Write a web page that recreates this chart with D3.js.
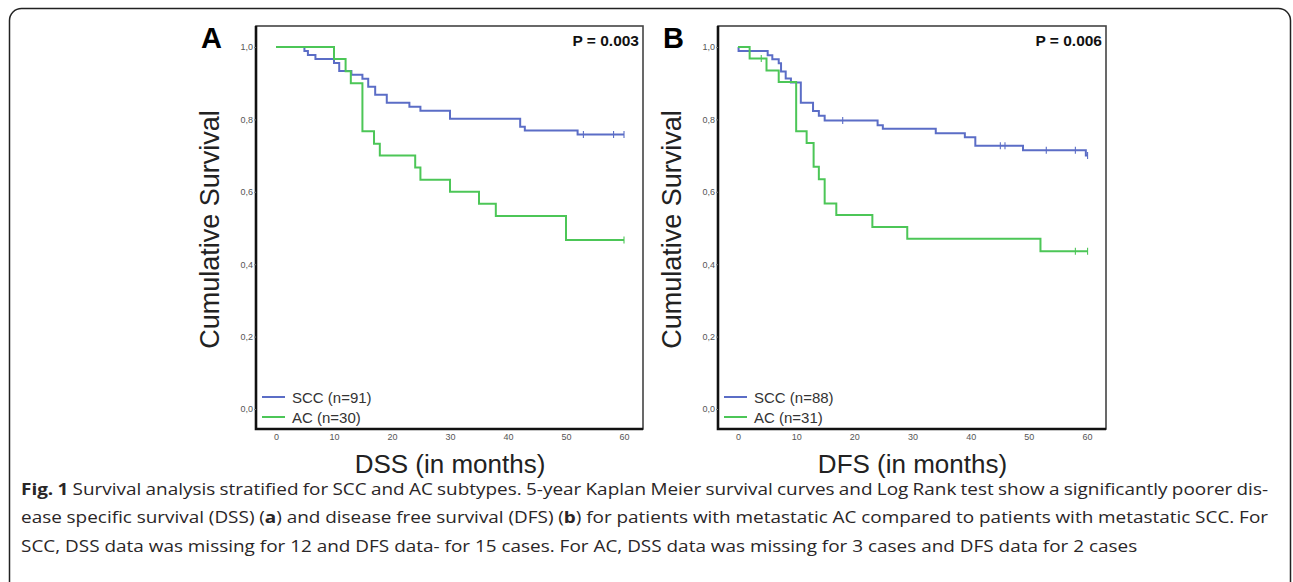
<!DOCTYPE html>
<html>
<head>
<meta charset="utf-8">
<script src="https://cdn.jsdelivr.net/npm/d3@7"></script>
<style>
  body { margin: 0; background: #fff; }
</style>
</head>
<body>
<div id="main"></div>
<script>
'use strict';

// axis ticks
var monthTicks = [0, 10, 20, 30, 40, 50, 60];
var survTicks = [0, 0.2, 0.4, 0.6, 0.8, 1.0];

// DSS (panel A)
var dssSccTime = [0, 4.9, 5.5, 6.8, 10.0, 10.9, 13.0, 14.9, 15.9, 17.1, 19.1, 23.0, 24.9, 30.0, 42.1, 42.9, 52.0, 60.0];
var dssSccSurv = [1, 0.989, 0.978, 0.967, 0.956, 0.934, 0.923, 0.912, 0.890, 0.868, 0.846, 0.835, 0.824, 0.802, 0.780, 0.769, 0.758, 0.758];
var dssSccCensor = [53.0, 58.2, 60.0];

var dssAcTime = [0, 10.0, 12.0, 12.9, 14.9, 16.9, 17.9, 24.0, 24.9, 30.0, 35.0, 37.9, 50.0, 60.0];
var dssAcSurv = [1, 0.967, 0.933, 0.900, 0.767, 0.733, 0.700, 0.667, 0.633, 0.600, 0.567, 0.533, 0.467, 0.467];
var dssAcCensor = [60.0];

// DFS (panel B)
var dfsSccTime = [0, 0.1, 5.1, 5.9, 7.0, 7.4, 8.2, 9.1, 10.8, 12.9, 13.9, 14.9, 24.0, 24.9, 34.0, 39.0, 40.8, 49.0, 59.8, 60.1];
var dfsSccSurv = [1, 0.989, 0.977, 0.966, 0.955, 0.932, 0.913, 0.902, 0.846, 0.823, 0.810, 0.797, 0.784, 0.774, 0.762, 0.751, 0.727, 0.715, 0.700, 0.700];
var dfsSccCensor = [18.0, 45.1, 45.9, 53.0, 58.0, 60.1];

var dfsAcTime = [0, 2.0, 4.9, 7.0, 10.0, 11.8, 13.0, 13.9, 14.9, 16.9, 23.1, 29.1, 52.0, 60.1];
var dfsAcSurv = [1, 0.968, 0.935, 0.903, 0.767, 0.735, 0.669, 0.635, 0.568, 0.536, 0.503, 0.470, 0.436, 0.436];
var dfsAcCensor = [4.0, 58.0, 60.1];

var seriesNames = ['SCC', 'AC'];
var dssN = [91, 30];
var dfsN = [88, 31];
var pValues = ['P = 0.003', 'P = 0.006'];

var width = 1293;
var height = 582;
var blue = '#5b6dc6';
var green = '#4cc657';
var chartFont = '"Liberation Sans", Arial, sans-serif';
var captionFont = '"Open Sans", "Noto Sans", sans-serif';

var svg = d3.select('#main').append('svg')
  .attr('width', width)
  .attr('height', height);

// outer figure frame
svg.append('rect')
  .attr('x', 9.5).attr('y', 8.5)
  .attr('width', 1281).attr('height', 620)
  .attr('rx', 12)
  .style('fill', 'none')
  .style('stroke', '#222')
  .style('stroke-width', 1.5);

function survivalAt(times, surv, t) {
  var s = surv[0];
  for (var i = 0; i < times.length; i++) {
    if (times[i] <= t) s = surv[i];
  }
  return s;
}

function drawPanel(box, letter, pText, xTitle, curves, nums) {
  var g = svg.append('g');
  var x = d3.scaleLinear().domain([0, 60]).range([box.x0 + 20, box.x1 - 19]);
  var y = d3.scaleLinear().domain([0, 1]).range([box.y1 - 20, box.y0 + 21]);

  // plot box
  g.append('rect')
    .attr('x', box.x0).attr('y', box.y0)
    .attr('width', box.x1 - box.x0).attr('height', box.y1 - box.y0)
    .style('fill', 'none').style('stroke', '#444').style('stroke-width', 1.6);
  g.append('path')
    .attr('d', 'M' + box.x0 + ',' + box.y0 + 'V' + box.y1 + 'H' + box.x1)
    .style('fill', 'none').style('stroke', '#111').style('stroke-width', 2.6);

  // y axis
  var yAxis = g.append('g')
    .attr('transform', 'translate(' + box.x0 + ',0)')
    .call(d3.axisLeft(y).tickValues(survTicks).tickSize(2).tickPadding(1)
      .tickFormat(function (d) { return d3.format('.1f')(d).replace('.', ','); }));
  yAxis.select('.domain').remove();
  yAxis.selectAll('line').style('stroke', '#777');
  yAxis.selectAll('text').style('font-family', chartFont).style('font-size', '9px').style('fill', '#555');

  // x axis
  var xAxis = g.append('g')
    .attr('transform', 'translate(0,' + box.y1 + ')')
    .call(d3.axisBottom(x).tickValues(monthTicks).tickSize(0).tickPadding(5));
  xAxis.select('.domain').remove();
  xAxis.selectAll('text').style('font-family', chartFont).style('font-size', '9px').style('fill', '#555');

  // curves
  var line = d3.line()
    .x(function (d) { return x(d[0]); })
    .y(function (d) { return y(d[1]); })
    .curve(d3.curveStepAfter);

  curves.forEach(function (c) {
    var pts = c.time.map(function (t, i) { return [t, c.surv[i]]; });
    g.append('path')
      .attr('d', line(pts))
      .style('fill', 'none')
      .style('stroke', c.color)
      .style('stroke-width', 2);
    g.selectAll(null).data(c.censor).enter().append('line')
      .attr('x1', function (d) { return x(d); })
      .attr('x2', function (d) { return x(d); })
      .attr('y1', function (d) { return y(survivalAt(c.time, c.surv, d)) - 3.5; })
      .attr('y2', function (d) { return y(survivalAt(c.time, c.surv, d)) + 3.5; })
      .style('stroke', c.color)
      .style('stroke-width', 1.1);
  });

  // legend
  var leg = g.append('g').attr('transform', 'translate(' + (box.x0 + 6) + ',' + (box.y1 - 32) + ')');
  curves.forEach(function (c, i) {
    leg.append('line')
      .attr('x1', 0).attr('x2', 23)
      .attr('y1', i * 20).attr('y2', i * 20)
      .style('stroke', c.color).style('stroke-width', 2);
    leg.append('text')
      .attr('x', 30).attr('y', i * 20 + 5.5)
      .text(seriesNames[i] + ' (n=' + nums[i] + ')')
      .style('font-family', chartFont).style('font-size', '15px').style('fill', '#333');
  });

  // p value
  g.append('text')
    .attr('x', box.x1 - 4).attr('y', box.y0 + 20)
    .attr('text-anchor', 'end')
    .text(pText)
    .style('font-family', chartFont).style('font-size', '15.5px')
    .style('font-weight', 'bold').style('fill', '#111');

  // panel letter
  g.append('text')
    .attr('x', box.x0 - 34).attr('y', box.y0 + 22)
    .attr('text-anchor', 'end')
    .text(letter)
    .style('font-family', chartFont).style('font-size', '29px')
    .style('font-weight', 'bold').style('fill', '#000');

  // axis titles
  g.append('text')
    .attr('transform', 'translate(' + (box.x0 - 37) + ',' + ((box.y0 + box.y1) / 2 + 2) + ') rotate(-90)')
    .attr('text-anchor', 'middle')
    .text('Cumulative Survival')
    .style('font-family', chartFont).style('font-size', '27px').style('fill', '#222');
  g.append('text')
    .attr('x', (x(0) + x(60)) / 2).attr('y', box.y1 + 44)
    .attr('text-anchor', 'middle')
    .text(xTitle)
    .style('font-family', chartFont).style('font-size', '26px').style('fill', '#222');
}

drawPanel({ x0: 256, x1: 643, y0: 26, y1: 429 }, 'A', pValues[0], 'DSS (in months)', [
  { time: dssSccTime, surv: dssSccSurv, censor: dssSccCensor, color: blue },
  { time: dssAcTime, surv: dssAcSurv, censor: dssAcCensor, color: green }
], dssN);

drawPanel({ x0: 718, x1: 1106, y0: 26, y1: 429 }, 'B', pValues[1], 'DFS (in months)', [
  { time: dfsSccTime, surv: dfsSccSurv, censor: dfsSccCensor, color: blue },
  { time: dfsAcTime, surv: dfsAcSurv, censor: dfsAcCensor, color: green }
], dfsN);

// caption: widened so the last line ends where the reference does, lines 1-2 justified
var captionLines = [
  [['Fig. 1', true], [' Survival analysis stratified for SCC and AC subtypes. 5-year Kaplan Meier survival curves and Log Rank test show a significantly poorer dis-', false]],
  [['ease specific survival (DSS) (', false], ['a', true], [') and disease free survival (DFS) (', false], ['b', true], [') for patients with metastatic AC compared to patients with metastatic SCC. For', false]],
  [['SCC, DSS data was missing for 12 and DFS data- for 15 cases. For AC, DSS data was missing for 3 cases and DFS data for 2 cases', false]]
];
var captionLeft = 21;
var captionRight = 1268;
var lastLineRight = 1138;

var cap = svg.append('g');
var capTexts = captionLines.map(function (segs, i) {
  var t = cap.append('text')
    .attr('x', 0).attr('y', 495 + i * 28.5)
    .style('font-family', captionFont).style('font-size', '16.5px').style('fill', '#2a2627');
  segs.forEach(function (s) {
    t.append('tspan').text(s[0]).style('font-weight', s[1] ? 'bold' : 'normal');
  });
  return t;
});
var stretch = (lastLineRight - captionLeft) / capTexts[2].node().getComputedTextLength();
cap.attr('transform', 'translate(' + captionLeft + ',0) scale(' + stretch + ',1)');

capTexts.slice(0, 2).forEach(function (t, i) {
  var full = captionLines[i].map(function (s) { return s[0]; }).join('');
  var spaces = full.split(' ').length - 1;
  var w = t.node().getComputedTextLength();
  var extra = ((captionRight - captionLeft) / stretch - w) / spaces;
  t.style('word-spacing', extra + 'px');
});
</script>
</body>
</html>
